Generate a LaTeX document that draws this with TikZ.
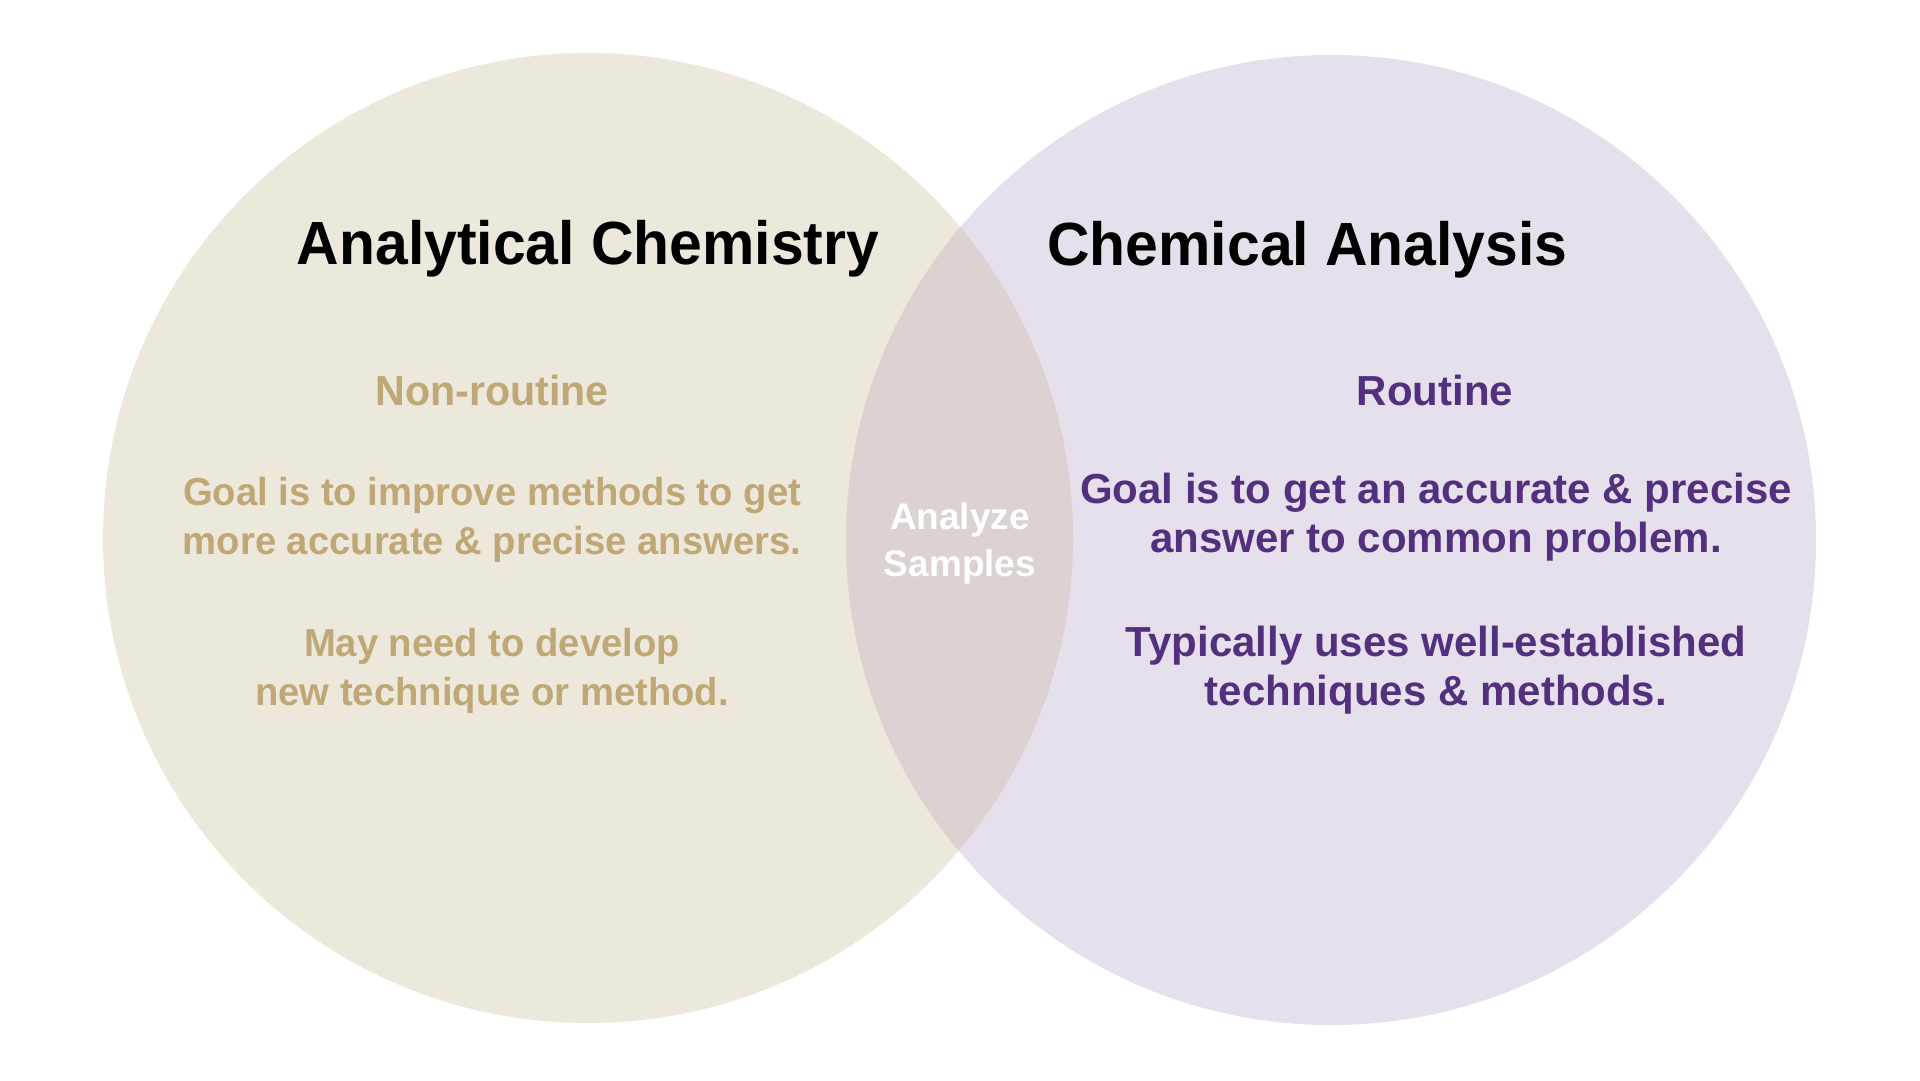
\documentclass[tikz,border=0pt]{standalone}
\usepackage{fontspec}
\setmainfont{Liberation Sans}
\newfontfamily\headfont{Liberation Sans}[FakeStretch=0.965]
\newfontfamily\tanfont{Liberation Sans}[FakeStretch=0.98]
\newfontfamily\purpfont{Liberation Sans}
\definecolor{leftfill}{HTML}{EDE8DC}
\definecolor{rightfill}{HTML}{E6E0EC}
\definecolor{overlapfill}{HTML}{DBD2D1}
\definecolor{tantext}{HTML}{C0A876}
\definecolor{purptext}{HTML}{52307E}
\begin{document}
\begin{tikzpicture}[x=1pt,y=-1pt,
  every node/.style={inner sep=0pt, outer sep=0pt, anchor=base, align=center},
  titletext/.style={font=\headfont\bfseries\fontsize{61}{70}\selectfont, text=black},
  tanhead/.style={font=\tanfont\bfseries\fontsize{42}{49}\selectfont, text=tantext},
  tanbody/.style={font=\tanfont\bfseries\fontsize{39}{49}\selectfont, text=tantext},
  purpbody/.style={font=\purpfont\bfseries\fontsize{42}{49}\selectfont, text=purptext},
  midtext/.style={font=\purpfont\bfseries\fontsize{37}{47}\selectfont, text=white}]
  \fill[white] (0,0) rectangle (1920,1080);
  \useasboundingbox (0,0) rectangle (1920,1080);
  % the two sets and their overlap
  \fill[leftfill] (588,538) circle[radius=485];
  \fill[rightfill] (1331,540) circle[radius=485];
  \begin{scope}
    \clip (588,538) circle[radius=485];
    \fill[overlapfill] (1331,540) circle[radius=485];
  \end{scope}
  % headings (base = baseline of the last line)
  \node[titletext] (lefttitle) at (588,264) {Analytical Chemistry};
  \node[titletext] (righttitle) at (1307.5,265) {Chemical Analysis};
  % left set
  \node[tanhead] (nonroutine) at (492,405) {Non-routine};
  \node[tanbody] (leftgoal) at (492,554) {Goal is to improve methods to get\\more accurate \& precise answers.};
  \node[tanbody] (leftmay) at (492,705) {May need to develop\\new technique or method.};
  % right set
  \node[purpbody] (routine) at (1435,405) {Routine};
  \node[purpbody] (rightgoal) at (1436,552) {Goal is to get an accurate \& precise\\answer to common problem.};
  \node[purpbody] (righttyp) at (1436,705) {Typically uses well-established\\techniques \& methods.};
  % overlap
  \node[midtext] (shared) at (960,576) {Analyze\\Samples};
\end{tikzpicture}
\end{document}
